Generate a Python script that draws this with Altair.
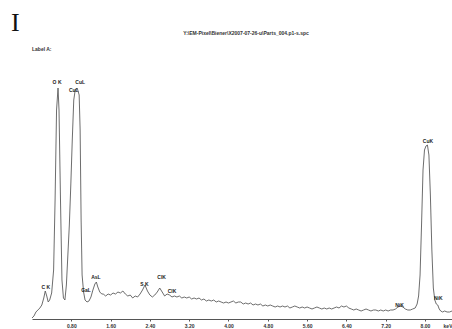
import altair as alt
import pandas as pd

# EDS spectrum, low-energy part (C K, O K, Cu L, Ga L, As L)
low_energy_kev = [0.00, 0.04, 0.08, 0.12, 0.16, 0.20, 0.24, 0.27, 0.30, 0.33,
                  0.36, 0.40, 0.44, 0.47, 0.50, 0.53, 0.55, 0.58, 0.61, 0.64,
                  0.67, 0.70, 0.73, 0.76, 0.79, 0.82, 0.85, 0.88, 0.92, 0.96,
                  0.98, 1.00, 1.02, 1.05, 1.08, 1.12, 1.16, 1.20, 1.24, 1.28,
                  1.31, 1.34, 1.38, 1.42]
low_counts = [10, 30, 70, 90, 110, 140, 210, 280, 230, 170,
              190, 260, 490, 1190, 2090, 2310, 2090, 1190, 390, 210,
              190, 340, 640, 940, 1340, 1790, 2190, 2290, 2310, 2240,
              1890, 990, 440, 270, 190, 170, 180, 220, 290, 350,
              370, 320, 270, 250]

# Continuum channels from 1.45 to 7.80 keV, 0.05 keV wide
channel_start_kev = 1.45
channel_width_kev = 0.05
continuum_counts = [250, 230, 250, 240, 260, 250, 270, 260, 280, 250,
                    230, 240, 210, 230, 220, 250, 290, 340, 280, 240,
                    220, 240, 270, 310, 270, 230, 250, 240, 220, 230,
                    220, 230, 210, 220, 210, 220, 200, 210, 200, 210,
                    190, 200, 180, 190, 180, 190, 170, 180, 170, 160,
                    170, 160, 170, 180, 160, 170, 170, 150, 160, 150,
                    160, 140, 150, 140, 150, 130, 140, 130, 140, 130,
                    120, 130, 120, 130, 120, 130, 110, 120, 130, 120,
                    110, 120, 110, 120, 110, 100, 110, 120, 110, 100,
                    110, 100, 110, 100, 110, 120, 110, 130, 120, 130,
                    110, 100, 90, 100, 90, 80, 90, 100, 90, 80,
                    90, 90, 80, 90, 80, 90, 80, 90, 90, 100,
                    120, 130, 120, 100, 90, 90, 100, 110]

# Cu K / Ni K region
high_energy_kev = [7.84, 7.87, 7.90, 7.93, 7.96, 7.99, 8.02, 8.05, 8.08, 8.11,
                   8.14, 8.17, 8.20, 8.23, 8.26, 8.29, 8.32, 8.36, 8.40, 8.45,
                   8.50, 8.55]
high_counts = [150, 230, 440, 940, 1490, 1690, 1730, 1740, 1640, 1240,
               690, 310, 190, 150, 140, 100, 80, 70, 80, 70,
               70, 80]

# Peak identification labels
peak_labels = ["C K", "O K", "CuL", "CuL", "GaL", "AsL", "S K", "ClK", "ClK",
               "NiK", "CuK", "NiK"]
label_kev = [0.28, 0.51, 0.98, 0.85, 1.10, 1.30, 2.29, 2.64, 2.85,
             7.48, 8.06, 8.27]
label_counts = [320, 2370, 2370, 2290, 290, 420, 350, 420, 280,
                140, 1780, 210]

tick_values = [0.80, 1.60, 2.40, 3.20, 4.00, 4.80, 5.60, 6.40, 7.20, 8.00]

spectrum_file = "Y:\\EM-Pixel\\Biener\\X2007-07-26-u\\Parts_004.p1-s.spc"

continuum_kev = [round(channel_start_kev + i * channel_width_kev, 2)
                 for i in range(len(continuum_counts))]

spectrum = pd.DataFrame({
    "energy": low_energy_kev + continuum_kev + high_energy_kev,
    "counts": low_counts + continuum_counts + high_counts,
}).sort_values("energy")

labels = pd.DataFrame({"label": peak_labels, "energy": label_kev,
                       "counts": label_counts})

x_scale = alt.Scale(domain=[0, 8.55], nice=False, zero=False)
y_scale = alt.Scale(domain=[0, 2400], nice=False)

x_axis = alt.Axis(values=tick_values, format=".2f", title="keV",
                  grid=False, tickSize=2,
                  labelFontSize=5, labelFontWeight="bold",
                  labelColor="#333", labelFont="Liberation Sans",
                  labelPadding=2,
                  domainColor="#555", tickColor="#555",
                  titleAnchor="end", titleAlign="right",
                  titleX=420, titleY=4, titleBaseline="top",
                  titleFontSize=5, titleFontWeight="bold",
                  titleFont="Liberation Sans", titleColor="#333")

line = alt.Chart(spectrum).mark_line(
    color="#5c5c5c", strokeWidth=0.9, interpolate="linear"
).encode(
    x=alt.X("energy:Q", scale=x_scale, axis=x_axis),
    y=alt.Y("counts:Q", scale=y_scale, axis=None),
)

peak_text = alt.Chart(labels).mark_text(
    fontSize=5, fontWeight="bold", font="Liberation Sans", color="#222",
    baseline="middle", align="center"
).encode(
    x=alt.X("energy:Q", scale=x_scale, axis=x_axis),
    y=alt.Y("counts:Q", scale=y_scale, axis=None),
    text="label:N",
)

header = pd.DataFrame({"t": [spectrum_file]})
file_title = alt.Chart(header).mark_text(
    fontSize=5, fontWeight="bold", font="Liberation Sans", color="#333",
    align="center", baseline="middle"
).encode(x=alt.value(214), y=alt.value(-46), text="t:N")

label_a = alt.Chart(pd.DataFrame({"t": ["Label A:"]})).mark_text(
    fontSize=5, fontWeight="bold", font="Liberation Sans", color="#333",
    align="left", baseline="middle"
).encode(x=alt.value(0), y=alt.value(-30), text="t:N")

panel_letter = alt.Chart(pd.DataFrame({"t": ["I"]})).mark_text(
    fontSize=26, font="Liberation Serif", color="#111",
    align="left", baseline="alphabetic"
).encode(x=alt.value(-21), y=alt.value(-48), text="t:N")

chart = alt.layer(line, peak_text, file_title, label_a, panel_letter).properties(
    width=420,
    height=240,
    padding={"left": 32, "top": 79, "right": 0, "bottom": 10},
    autosize=alt.AutoSizeParams(type="none"),
    background="white",
).configure_view(stroke=None)

chart.save("out.html", embed_options={"renderer": "svg", "actions": False})
